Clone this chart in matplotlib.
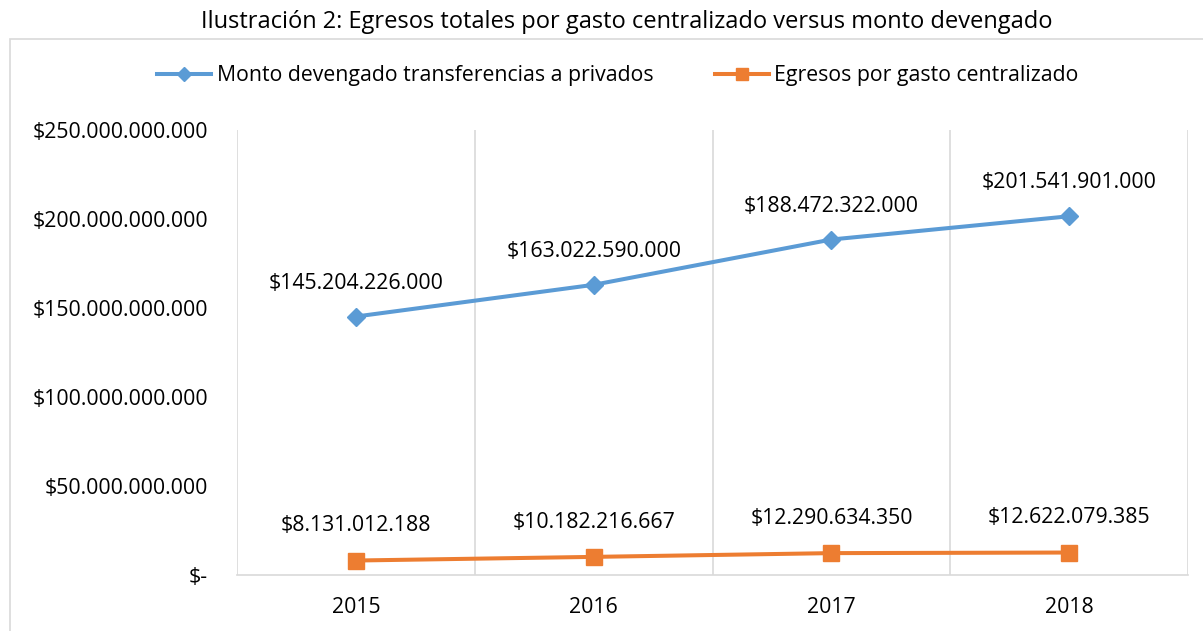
import matplotlib.pyplot as plt
from matplotlib.patches import Rectangle
from matplotlib.ticker import FuncFormatter, MultipleLocator

plt.rcParams['font.family'] = ['Open Sans', 'DejaVu Sans']

years = ["2015", "2016", "2017", "2018"]
monto_devengado = [145204226000, 163022590000, 188472322000, 201541901000]
egresos_centralizado = [8131012188, 10182216667, 12290634350, 12622079385]

blue = "#5B9BD5"
orange = "#ED7D31"
grid_gray = "#D9D9D9"
fs = 15.3


def pesos(v, pos=None):
    if v == 0:
        return "$-"
    return "$" + f"{int(round(v)):,}".replace(",", ".")


fig = plt.figure(figsize=(12.03, 6.31), dpi=100)
ax = fig.add_axes([237 / 1203, 1 - 575 / 631, (1188 - 237) / 1203, (575 - 130) / 631])

# marco exterior del grafico
fig.patches.append(Rectangle((10 / 1203, -0.1), 1.2, 1 - 39 / 631 + 0.1,
                             transform=fig.transFigure, fill=False,
                             edgecolor=grid_gray, linewidth=1.2))

x = list(range(len(years)))
ax.plot(x, monto_devengado, color=blue, linewidth=2.9, marker="D", markersize=9.5,
        label="Monto devengado transferencias a privados", zorder=3)
ax.plot(x, egresos_centralizado, color=orange, linewidth=2.9, marker="s", markersize=12,
        label="Egresos por gasto centralizado", zorder=3)

for xi, v in zip(x, monto_devengado):
    ax.annotate(pesos(v), (xi, v), xytext=(0, 24), textcoords="offset points",
                ha="center", va="center", fontsize=fs)
for xi, v in zip(x, egresos_centralizado):
    ax.annotate(pesos(v), (xi, v), xytext=(0, 25), textcoords="offset points",
                ha="center", va="center", fontsize=fs)

ax.set_xlim(-0.5, 3.5)
ax.set_ylim(0, 250e9)
ax.set_xticks(x)
ax.set_xticklabels(years)
ax.xaxis.set_minor_locator(MultipleLocator(1, offset=0.5))
ax.yaxis.set_major_locator(MultipleLocator(50e9))
ax.yaxis.set_major_formatter(FuncFormatter(pesos))
ax.grid(which="minor", axis="x", color=grid_gray, linewidth=1.2)
ax.tick_params(which="both", length=0)
ax.tick_params(axis="y", pad=21, labelsize=fs)
ax.tick_params(axis="x", pad=16, labelsize=fs)
for s in ["left", "top", "right"]:
    ax.spines[s].set_visible(False)
ax.spines["bottom"].set_color(grid_gray)
ax.spines["bottom"].set_linewidth(1.2)

fig.text(627 / 1203, 1 - 22 / 631,
         "Ilustración 2: Egresos totales por gasto centralizado versus monto devengado",
         ha="center", va="center", fontsize=17)
leg = fig.legend(loc="center", bbox_to_anchor=(618 / 1203, 1 - 76 / 631), ncol=2,
                 frameon=False, fontsize=fs, handlelength=2.55, handletextpad=0.25,
                 columnspacing=2.9, markerscale=0.75)

fig.savefig("out.png", dpi=100)
